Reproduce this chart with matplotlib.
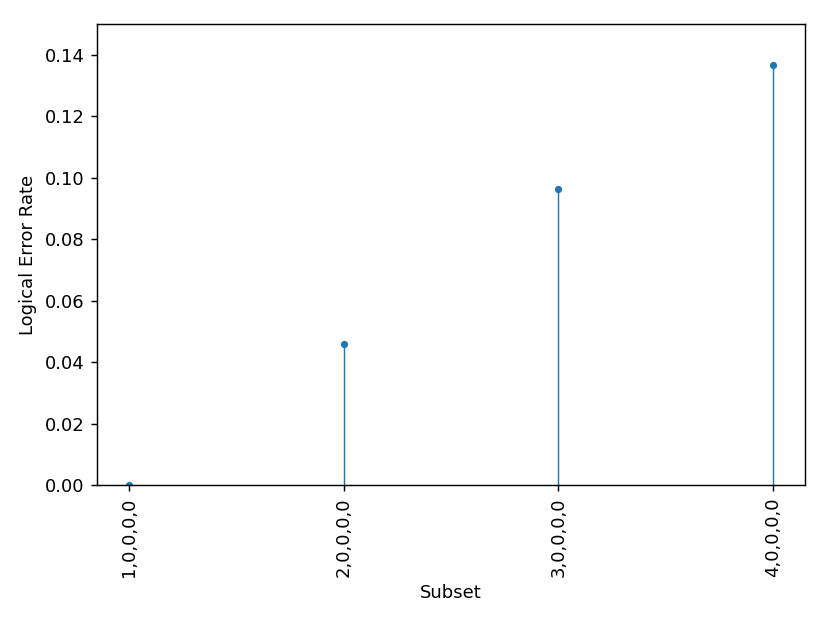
import matplotlib
matplotlib.use("Agg")
import matplotlib.pyplot as plt

subsets = ["1,0,0,0,0", "2,0,0,0,0", "3,0,0,0,0", "4,0,0,0,0"]
error_rate = [0.0, 0.0459, 0.0964, 0.1368]

fig = plt.figure(figsize=(830 / 130, 623 / 130), dpi=130)
ax = fig.add_axes([0.117, 0.2215, 0.853, 0.74])

x = list(range(1, len(subsets) + 1))
markerline, stemlines, baseline = ax.stem(x, error_rate)
plt.setp(markerline, markersize=3)
plt.setp(stemlines, linewidth=0.8)
baseline.set_visible(False)

ax.set_ylim(0, 0.15)
ax.set_xticks(x)
ax.set_xticklabels(subsets, rotation=90)
ax.set_xlabel("Subset")
ax.set_ylabel("Logical Error Rate")

fig.savefig("out.png", dpi=130)
